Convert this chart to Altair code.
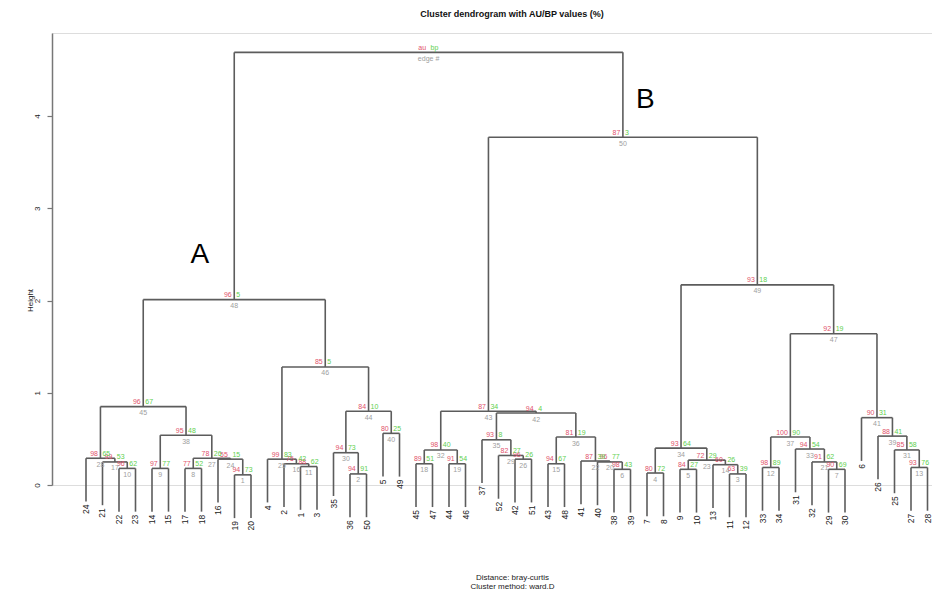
import altair as alt
import pandas as pd

# ---- data ----
leaf_order = [24, 21, 22, 23, 14, 15, 17, 18, 16, 19, 20, 4, 2, 1, 3, 35, 36, 50, 5, 49,
              45, 47, 44, 46, 37, 52, 42, 51, 43, 48, 41, 40, 38, 39, 7, 8, 9, 10, 13, 11,
              12, 33, 34, 31, 32, 29, 30, 6, 26, 25, 27, 28]

# merges in edge order (edge # = position + 1); children: leaf label or "eN"
edge_left = ["19", "36", "11", "7", "9", "38", "29", "17", "14", "22",
             "1", "33", "27", "13", "43", "2", "21", "45", "44", "40",
             "32", "41", "e5", "16", "4", "42", "e8", "24", "52", "35",
             "25", "e18", "31", "e4", "37", "e15", "e12", "e9", "26", "5",
             "6", "e35", "e32", "e30", "e28", "e25", "e37", "e45", "e34", "e43",
             "e48"]
edge_right = ["20", "50", "12", "8", "10", "39", "30", "18", "15", "23",
              "3", "34", "28", "e3", "48", "e11", "e10", "47", "46", "e6",
              "e7", "e20", "e14", "e1", "e16", "51", "e24", "e17", "e26", "e2",
              "e13", "e19", "e21", "e23", "e29", "e22", "e33", "e27", "e31", "49",
              "e39", "e36", "e42", "e40", "e38", "e44", "e41", "e46", "e47", "e49",
              "e50"]
edge_height = [0.11, 0.12, 0.12, 0.13, 0.17, 0.17, 0.17, 0.18, 0.18, 0.18,
               0.20, 0.19, 0.19, 0.22, 0.23, 0.23, 0.25, 0.23, 0.23, 0.25,
               0.25, 0.26, 0.27, 0.28, 0.28, 0.28, 0.29, 0.29, 0.32, 0.35,
               0.38, 0.38, 0.39, 0.40, 0.49, 0.52, 0.52, 0.54, 0.53, 0.56,
               0.73, 0.78, 0.80, 0.80, 0.85, 1.28, 1.64, 2.01, 2.17, 3.77,
               4.69]
edge_au = ["94", "94", "63", "80", "84", "98", "90", "77", "97", "96",
           "88", "98", "93", "60", "94", "75", "99", "89", "91", "96",
           "91", "87", "72", "55", "99", "96", "78", "98", "82", "94",
           "85", "98", "94", "93", "93", "81", "100", "95", "88", "80",
           "90", "94", "87", "84", "96", "85", "92", "96", "93", "87",
           "au"]
edge_bp = ["73", "91", "39", "72", "27", "43", "69", "52", "77", "62",
           "62", "89", "76", "26", "67", "42", "53", "51", "54", "77",
           "62", "39", "29", "15", "83", "26", "26", "65", "27", "73",
           "58", "40", "54", "64", "8", "19", "90", "48", "41", "25",
           "31", "4", "34", "10", "67", "5", "19", "5", "18", "3",
           "bp"]
edge_label = [str(i + 1) for i in range(50)] + ["edge #"]

hang = 0.469

ann_text = ["A", "B"]
ann_x = [7.9, 34.9]
ann_h = [2.49, 4.17]

# ---- build tree geometry from the merge table ----
xpos = {str(l): i + 1 for i, l in enumerate(leaf_order)}
hpos = {}
segs, nodes, leaves = [], [], []
for k in range(len(edge_left)):
    eid = "e%d" % (k + 1)
    l, r, h = edge_left[k], edge_right[k], edge_height[k]
    segs.append(dict(x=xpos[l], x2=xpos[r], y=h, y2=h))
    for c in (l, r):
        if c.startswith("e"):
            bottom = hpos[c]
        else:
            bottom = h - hang
            leaves.append(dict(x=xpos[c], y=bottom, label=c))
        segs.append(dict(x=xpos[c], x2=xpos[c], y=h, y2=bottom))
    xpos[eid] = (xpos[l] + xpos[r]) / 2
    hpos[eid] = h
    nodes.append(dict(x=xpos[eid], y=h, au=edge_au[k], bp=edge_bp[k], edge=edge_label[k]))

seg_df = pd.DataFrame(segs)
node_df = pd.DataFrame(nodes)
leaf_df = pd.DataFrame(leaves)
ann_df = pd.DataFrame(dict(x=ann_x, y=ann_h, t=ann_text))

FONT = "Liberation Sans"
xscale = alt.Scale(domain=[-1.0606, 52.2727], nice=False, zero=False)
yscale = alt.Scale(domain=[0, 4.9], nice=False, zero=False)
xaxis = alt.Axis(labels=False, ticks=False, domain=False, grid=False,
                 title=["Distance:  bray-curtis", "Cluster method: ward.D"],
                 titleFontSize=8, titleFontWeight="normal", titleFont=FONT,
                 titleColor="#222", titlePadding=88, titleX=460, titleLineHeight=9)
yaxis = alt.Axis(values=[0, 1, 2, 3, 4], grid=False, title="Height",
                 titleFontSize=8, titleFontWeight="normal", titleFont=FONT,
                 titleColor="#222", titleX=-22, titleY=267, titleAngle=270,
                 titleAlign="center", titleBaseline="middle",
                 labelAngle=270, labelAlign="center", labelBaseline="bottom",
                 labelPadding=6, labelFontSize=8, labelFont=FONT, labelColor="#222",
                 tickSize=5, tickColor="#777", domainColor="#777", domainWidth=1.5,
                 tickWidth=1.2)

X = alt.X("x:Q", scale=xscale, axis=xaxis)
Y = alt.Y("y:Q", scale=yscale, axis=yaxis)

rules = alt.Chart(seg_df).mark_rule(color="#5c5c5c", strokeWidth=1.6).encode(
    x=X, x2="x2:Q", y=Y, y2="y2:Q")

au_t = alt.Chart(node_df).mark_text(color="#DF536B", fontSize=7, font=FONT, align="right",
                                    baseline="alphabetic", dx=-2.5, dy=-2.5).encode(
    x=X, y=Y, text="au:N")
bp_t = alt.Chart(node_df).mark_text(color="#61D04F", fontSize=7, font=FONT, align="left",
                                    baseline="alphabetic", dx=2, dy=-2.5).encode(
    x=X, y=Y, text="bp:N")
ed_t = alt.Chart(node_df).mark_text(color="#9E9E9E", fontSize=7, font=FONT, align="center",
                                    baseline="top", dy=2.5).encode(
    x=X, y=Y, text="edge:N")
leaf_t = alt.Chart(leaf_df).mark_text(color="#222", fontSize=8.5, font=FONT, angle=270,
                                      align="right", baseline="middle", dx=-3).encode(
    x=X, y=Y, text="label:N")
ann_t = alt.Chart(ann_df).mark_text(color="#000", fontSize=28, font=FONT,
                                    align="center", baseline="middle").encode(
    x=X, y=Y, text="t:N")

chart = alt.layer(rules, au_t, bp_t, ed_t, leaf_t, ann_t).properties(
    width=880, height=452,
    title=alt.TitleParams("Cluster dendrogram with AU/BP values (%)", fontSize=9,
                          fontWeight="bold", font=FONT, anchor="middle", dx=20,
                          offset=14, color="#111"),
    autosize=alt.AutoSizeParams(type="none"),
    padding={"left": 44, "top": 25, "right": 0, "bottom": 106},
).configure_view(stroke=None).configure(background="white")

chart.save("out.html", embed_options={"renderer": "svg", "actions": False})
